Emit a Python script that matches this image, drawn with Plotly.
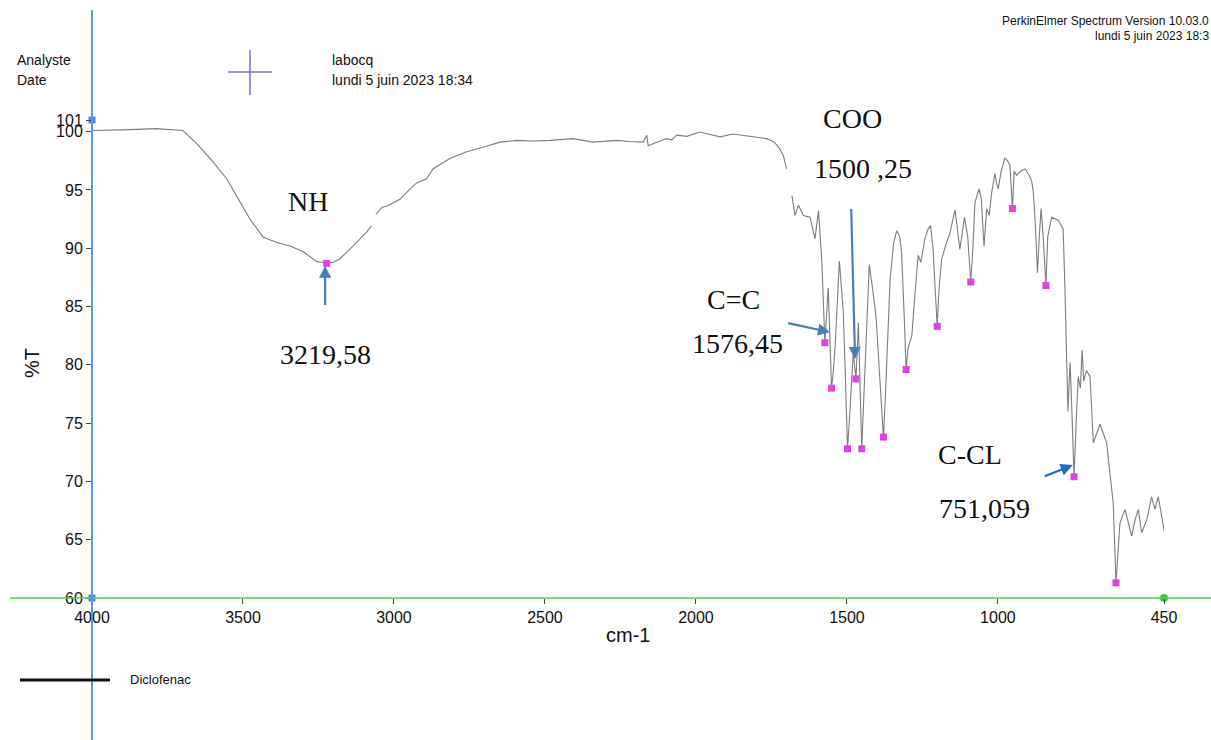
import plotly.graph_objects as go

# ---- spectrum data ----
wavenumber = [4000, 3996, 3900, 3786, 3699, 3653, 3599, 3554, 3521, 3477, 3434, 3388, 3344, 3300,
              3256, 3223, 3200, 3179, 3135, 3090, 3075, None,
              3060, 3040, 3024, 2980, 2950, 2937, 2925, 2892, 2871, 2815, 2759, 2700, 2649, 2594,
              2540, 2483, 2407, 2341, 2300, 2263, 2220, 2175, 2163, 2158, 2130, 2097, 2080, 2064,
              2030, 1987, 1960, 1920, 1877, 1820, 1766, 1740, 1722, 1710, 1700, None,
              1682, 1672, 1661, 1644, 1622, 1606, 1594, 1583, 1573, 1567, 1562, 1556, 1551, 1545,
              1539, 1525, 1512, 1504, 1498, 1490, 1479, 1470, 1462, 1451, 1440, 1426, 1415, 1405,
              1401, 1390, 1379, 1370, 1357, 1345, 1335, 1325, 1319, 1310, 1304, 1297, 1285, 1275,
              1264, 1255, 1242, 1232, 1223, 1215, 1208, 1201, 1195, 1186, 1170, 1160, 1142, 1134,
              1126, 1111, 1100, 1090, 1083, 1076, 1062, 1055, 1046, 1037, 1029, 1021, 1010, 1004,
              999, 990, 977, 968, 960, 952, 946, 938, 925, 910, 895, 888, 883, 876, 869, 863, 857,
              850, 841, 835, 822, 800, 784, 778, 772, 768, 764, 761, 755, 748, 741, 734, 727, 721,
              716, 707, 695, 684, 662, 640, 618, 609, 596, 579, 557, 546, 535, 524, 507, 491, 480,
              469, 447]
transmittance = [100.1, 100.1, 100.15, 100.26, 100.1, 98.97, 97.4, 95.96, 94.5, 92.5, 90.97, 90.5,
                 90.2, 89.7, 88.85, 88.73, 88.8, 89.1, 90.2, 91.4, 91.9, None,
                 92.9, 93.5, 93.6, 94.2, 95.0, 95.3, 95.6, 95.96, 96.8, 97.7, 98.27, 98.7, 99.1,
                 99.25, 99.2, 99.25, 99.4, 99.1, 99.2, 99.25, 99.15, 99.1, 99.7, 98.8, 99.1, 99.4,
                 99.3, 99.7, 99.6, 99.97, 99.8, 99.55, 99.8, 99.6, 99.4, 99.1, 98.5, 97.9, 96.8, None,
                 94.5, 92.8, 93.7, 92.8, 92.66, 90.8, 93.2, 88.8, 81.9, 84.0, 86.6, 82.0, 77.95,
                 79.5, 81.6, 88.9, 84.5, 78.0, 72.9, 76.0, 81.05, 78.8, 83.6, 72.8, 80.0, 88.6,
                 86.5, 84.5, 83.05, 78.0, 73.7, 79.0, 87.35, 90.5, 91.5, 91.0, 89.65, 84.0, 79.6,
                 81.5, 82.5, 86.0, 89.4, 88.8, 90.8, 91.6, 91.95, 90.0, 86.0, 83.3, 86.5, 89.1,
                 90.5, 91.2, 93.3, 91.8, 89.9, 92.66, 91.0, 87.1, 90.0, 93.95, 95.1, 94.2, 90.2,
                 93.4, 92.8, 94.7, 96.4, 95.5, 95.1, 96.5, 97.75, 97.5, 97.1, 93.4, 96.6, 96.25,
                 96.6, 96.8, 96.2, 95.7, 94.9, 92.0, 87.9, 91.0, 93.4, 91.0, 86.8, 91.0, 92.66,
                 92.4, 91.65, 86.5, 79.9, 76.0, 78.5, 80.2, 76.0, 70.4, 75.0, 79.0, 78.0, 81.3,
                 78.6, 79.5, 79.0, 73.3, 74.9, 73.3, 68.1, 61.26, 66.4, 67.6, 65.3, 66.7, 67.6,
                 65.6, 66.7, 68.7, 67.6, 68.7, 65.4]

# picked peaks (pink squares)
peak_wn = [3223, 1573, 1551, 1498, 1470, 1451, 1379, 1304, 1201, 1090, 952, 841, 748, 609]
peak_t = [88.7, 81.9, 78.0, 72.8, 78.8, 72.8, 73.8, 79.6, 83.3, 87.1, 93.4, 86.8, 70.4, 61.3]

x_ticks = [4000, 3500, 3000, 2500, 2000, 1500, 1000, 450]
y_ticks = [60, 65, 70, 75, 80, 85, 90, 95, 100, 101]

# annotation labels inside the plot: (text, wavenumber, %T)
labels = [("NH", 3285, 94.0), ("3219,58", 3228, 80.9), ("C=C", 1877, 85.6),
          ("1576,45", 1864, 81.85), ("1500 ,25", 1447, 96.8),
          ("C-CL", 1093, 72.3), ("751,059", 1043, 67.7)]
# label placed above the plot top (paper coords)
top_label = ("COO", 0.709, 1.004)
# arrows: (tail wn, tail T, head wn, head T, colour)
arrows = [(3228, 85.0, 3228, 88.5, "#4a7ebb"), (1700, 83.6, 1556, 82.8, "#4a7ebb"),
          (1486, 93.5, 1473, 80.5, "#4a7ebb"), (850, 70.4, 752, 71.4, "#1f6cc4")]

fig = go.Figure()
fig.add_trace(go.Scatter(x=wavenumber, y=transmittance, mode="lines",
                         line=dict(color="#7d7d7d", width=1.1), connectgaps=False,
                         hoverinfo="skip", showlegend=False))
fig.add_trace(go.Scatter(x=peak_wn, y=peak_t, mode="markers",
                         marker=dict(symbol="square", size=7, color="#e044e0"),
                         showlegend=False))
fig.add_trace(go.Scatter(x=[4000, 4000], y=[101, 60], mode="markers", cliponaxis=False,
                         marker=dict(symbol="square", size=7, color="#3a8ee6"),
                         showlegend=False))
fig.add_trace(go.Scatter(x=[450], y=[60], mode="markers", cliponaxis=False,
                         marker=dict(symbol="circle", size=8, color="#3cc83c"),
                         showlegend=False))

serif = dict(family="Liberation Serif", size=28, color="#111111")
ann = []
for t, xv, yv in labels:
    ann.append(dict(text=t, x=xv, y=yv, xref="x", yref="y", showarrow=False, font=serif))
ann.append(dict(text=top_label[0], x=top_label[1], y=top_label[2], xref="paper",
                yref="paper", xanchor="center", yanchor="middle", showarrow=False, font=serif))
for tx, ty, hx, hy, c in arrows:
    ann.append(dict(text="", x=hx, y=hy, ax=tx, ay=ty, xref="x", yref="y",
                    axref="x", ayref="y", showarrow=True, arrowhead=2, arrowsize=1.1,
                    arrowwidth=2.2, arrowcolor=c))

sans = "Liberation Sans"
hdr = [("Analyste", -0.0718, 1.1255, "left"), ("Date", -0.0718, 1.0837, "left"),
       ("labocq", 0.222, 1.1255, "left"), ("lundi 5 juin 2023 18:34", 0.222, 1.0837, "left")]
for t, xv, yv, a in hdr:
    ann.append(dict(text=t, x=xv, y=yv, xref="paper", yref="paper", xanchor=a,
                    yanchor="middle", showarrow=False,
                    font=dict(family=sans, size=14, color="#111111")))
ann.append(dict(text="PerkinElmer Spectrum Version 10.03.0", x=1.0438, y=1.2071,
                xref="paper", yref="paper", xanchor="right", yanchor="middle",
                showarrow=False, font=dict(family=sans, size=12, color="#111111")))
ann.append(dict(text="lundi 5 juin 2023 18:3", x=1.0438, y=1.1757,
                xref="paper", yref="paper", xanchor="right", yanchor="middle",
                showarrow=False, font=dict(family=sans, size=12, color="#111111")))
ann.append(dict(text="%T", x=-0.056, y=0.4916, xref="paper", yref="paper",
                xanchor="center", yanchor="middle", textangle=-90, showarrow=False,
                font=dict(family=sans, size=20, color="#111111")))
ann.append(dict(text="cm-1", x=0.5, y=-0.0774, xref="paper", yref="paper",
                xanchor="center", yanchor="middle", showarrow=False,
                font=dict(family=sans, size=20, color="#111111")))
ann.append(dict(text="Diclofenac", x=0.0336, y=-0.1715, xref="paper", yref="paper",
                xanchor="left", yanchor="middle", showarrow=False,
                font=dict(family=sans, size=13, color="#111111")))

shapes = [
    # purple cursor cross
    dict(type="line", xref="paper", yref="paper", x0=0.1269, x1=0.1679, y0=1.1004, y1=1.1004,
         line=dict(color="#7b6fd0", width=1.5)),
    dict(type="line", xref="paper", yref="paper", x0=0.1474, x1=0.1474, y0=1.0523, y1=1.1464,
         line=dict(color="#7b6fd0", width=1.5)),
    # green baseline
    dict(type="line", xref="paper", yref="paper", x0=-0.0765, x1=1.044, y0=0, y1=0,
         line=dict(color="#4fd14f", width=1.5)),
    # blue vertical cursor
    dict(type="line", xref="paper", yref="paper", x0=0, x1=0, y0=-0.297, y1=1.23,
         line=dict(color="#5b9bdf", width=2)),
    # legend line
    dict(type="line", xref="paper", yref="paper", x0=-0.0672, x1=0.0168, y0=-0.1715,
         y1=-0.1715, line=dict(color="#111111", width=3)),
]

fig.update_layout(
    width=1211, height=740,
    margin=dict(l=92, r=47, t=120, b=142),
    paper_bgcolor="white", plot_bgcolor="white",
    annotations=ann, shapes=shapes, showlegend=False,
    xaxis=dict(range=[4000, 450], autorange=False, tickmode="array", tickvals=x_ticks,
               ticktext=[str(v) for v in x_ticks], ticks="outside", ticklen=5,
               tickcolor="#444", showgrid=False, zeroline=False, showline=False,
               tickfont=dict(family=sans, size=16, color="#111111")),
    yaxis=dict(range=[60, 101], autorange=False, tickmode="array", tickvals=y_ticks,
               ticktext=[str(v) for v in y_ticks], ticks="outside", ticklen=5,
               tickcolor="#444", showgrid=False, zeroline=False, showline=False,
               tickfont=dict(family=sans, size=16, color="#111111")),
)

fig.write_html("out.html", config={"displayModeBar": False},
               post_script="document.body.style.margin='0px';document.body.style.overflow='hidden';")
